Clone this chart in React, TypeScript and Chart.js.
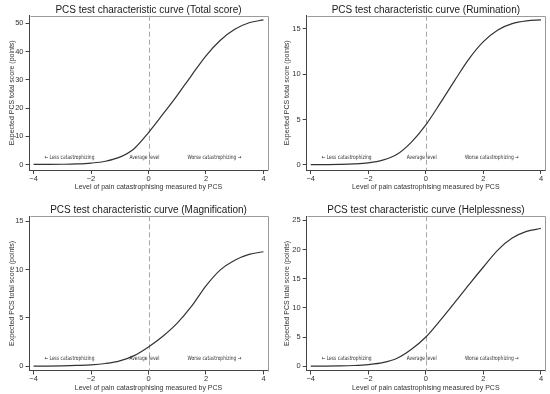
import React, { useEffect, useRef } from 'react';
import { Chart, registerables } from 'chart.js';

Chart.register(...registerables);

// ---- data ----
const theta = [-4, -3.5, -3, -2.5, -2, -1.5, -1, -0.5, 0, 0.5, 1, 1.5, 2, 2.5, 3, 3.5, 4];
const totalScore = [0.01, 0.03, 0.08, 0.2, 0.5, 1.15, 2.6, 5.6, 11.3, 17.8, 24.5, 31.6, 38.5, 44.0, 47.9, 50.2, 51.2];
const rumination = [0.0, 0.01, 0.03, 0.08, 0.2, 0.5, 1.15, 2.5, 4.4, 6.8, 9.3, 11.7, 13.6, 14.9, 15.6, 15.9, 16.0];
const magnification = [0.01, 0.02, 0.04, 0.08, 0.14, 0.28, 0.55, 1.1, 2.0, 3.1, 4.45, 6.2, 8.3, 9.95, 10.95, 11.55, 11.83];
const helplessness = [0.01, 0.02, 0.05, 0.12, 0.28, 0.6, 1.35, 2.9, 5.0, 7.85, 10.9, 14.0, 17.0, 19.9, 21.95, 23.1, 23.6];

const xTicks = [-4, -2, 0, 2, 4];
const totalTicks = [0, 10, 20, 30, 40, 50];
const ruminationTicks = [0, 5, 10, 15];
const magnificationTicks = [0, 5, 10, 15];
const helplessnessTicks = [0, 5, 10, 15, 20, 25];

const panelTitles = [
  'PCS test characteristic curve (Total score)',
  'PCS test characteristic curve (Rumination)',
  'PCS test characteristic curve (Magnification)',
  'PCS test characteristic curve (Helplessness)',
];
const xAxisTitle = 'Level of pain catastrophising measured by PCS';
const yAxisTitle = 'Expected PCS total score (points)';
const leftNote = '\u2190 Less catastrophizing';
const midNote = 'Average level';
const rightNote = 'Worse catastrophizing \u2192';

const W = 275;
const H = 197;
const FONT = "'Liberation Sans', Arial, sans-serif";
const NOTE_FONT = "'Liberation Sans Narrow', 'DejaVu Sans Condensed', 'Liberation Sans', sans-serif";

type PanelCfg = {
  title: string;
  values: number[];
  yTicks: number[];
  yMin: number;
  yMax: number;
  frameLeft: number;
  frameRight: number;
  frameTop: number;
  frameBottom: number;
  titleY: number;
  xTitlePad: number;
  left: number;
  top: number;
};

const panels: PanelCfg[] = [
  { title: panelTitles[0], values: totalScore, yTicks: totalTicks, yMin: -1.95, yMax: 52.7,
    frameLeft: 29.5, frameRight: 267.5, frameTop: 15.7, frameBottom: 170, titleY: 10.5, xTitlePad: 5.8, left: 0, top: 0 },
  { title: panelTitles[1], values: rumination, yTicks: ruminationTicks, yMin: -0.59, yMax: 16.47,
    frameLeft: 31.7, frameRight: 270, frameTop: 15.7, frameBottom: 170, titleY: 10.5, xTitlePad: 5.8, left: 275, top: 0 },
  { title: panelTitles[2], values: magnification, yTicks: magnificationTicks, yMin: -0.44, yMax: 15.49,
    frameLeft: 29.5, frameRight: 267.5, frameTop: 19.3, frameBottom: 173.5, titleY: 13.5, xTitlePad: 2.2, left: 0, top: 197 },
  { title: panelTitles[3], values: helplessness, yTicks: helplessnessTicks, yMin: -0.74, yMax: 25.69,
    frameLeft: 31.7, frameRight: 270, frameTop: 19.3, frameBottom: 173.5, titleY: 13.5, xTitlePad: 2.2, left: 275, top: 197 },
];

const fmt = (v: number) => String(v).replace('-', '\u2212');

function Panel({ cfg }: { cfg: PanelCfg }) {
  const ref = useRef<HTMLCanvasElement | null>(null);
  useEffect(() => {
    if (!ref.current) return;
    const decor = {
      id: 'decor',
      beforeDatasetsDraw(chart: any) {
        const { ctx, chartArea: a, scales } = chart;
        ctx.save();
        // frame top/right
        ctx.strokeStyle = '#9a9a9a';
        ctx.lineWidth = 1;
        ctx.beginPath();
        ctx.moveTo(Math.round(a.left) + 0.5, Math.round(a.top) + 0.5);
        ctx.lineTo(Math.round(a.right) + 0.5, Math.round(a.top) + 0.5);
        ctx.lineTo(Math.round(a.right) + 0.5, Math.round(a.bottom) + 0.5);
        ctx.stroke();
        // dashed zero line
        const x0 = Math.round(scales.x.getPixelForValue(0)) + 0.5;
        ctx.strokeStyle = '#a8a8a8';
        ctx.setLineDash([5, 3]);
        ctx.beginPath();
        ctx.moveTo(x0, a.top);
        ctx.lineTo(x0, a.bottom);
        ctx.stroke();
        ctx.setLineDash([]);
        // notes (horizontally condensed to match the narrow font of the original)
        const yn = scales.y.getPixelForValue(0) - 7.5;
        ctx.fillStyle = '#333';
        ctx.font = `6px ${NOTE_FONT}`;
        ctx.textBaseline = 'middle';
        const measured = ctx.measureText(leftNote).width || 1;
        const sx = Math.min(1, 50 / measured);
        const drawNote = (txt: string, xv: number, align: string) => {
          ctx.save();
          const px = scales.x.getPixelForValue(xv);
          ctx.translate(px, yn);
          ctx.scale(sx, 1);
          ctx.textAlign = align;
          ctx.fillText(txt, 0, 0);
          ctx.restore();
        };
        drawNote(leftNote, -3.62, 'left');
        drawNote(midNote, -0.14, 'center');
        drawNote(rightNote, 3.23, 'right');
        // title
        ctx.fillStyle = '#1a1a1a';
        ctx.font = `10px ${FONT}`;
        ctx.textAlign = 'center';
        ctx.textBaseline = 'middle';
        ctx.fillText(cfg.title, (a.left + a.right) / 2, cfg.titleY);
        ctx.restore();
      },
    };
    const chart = new Chart(ref.current, {
      type: 'line',
      data: {
        datasets: [
          {
            data: theta.map((t, i) => ({ x: t, y: cfg.values[i] })),
            borderColor: '#333',
            borderWidth: 1.2,
            pointRadius: 0,
            cubicInterpolationMode: 'monotone',
            fill: false,
          },
        ],
      },
      options: {
        animation: false,
        responsive: false,
        events: [],
        layout: { padding: { left: 0, right: W - cfg.frameRight, top: cfg.frameTop, bottom: 0 } },
        plugins: { legend: { display: false }, tooltip: { enabled: false }, title: { display: false } },
        scales: {
          x: {
            type: 'linear',
            min: -4.14,
            max: 4.14,
            afterBuildTicks: (s: any) => { s.ticks = xTicks.map((v) => ({ value: v })); },
            afterFit: (s: any) => { s.height = H - cfg.frameBottom; },
            grid: { drawOnChartArea: false, drawTicks: true, tickLength: 4, color: '#444' },
            border: { display: true, color: '#444', width: 1 },
            ticks: { callback: (v: any) => fmt(v), font: { size: 7.5, family: FONT }, color: '#333', padding: 0, maxRotation: 0, autoSkip: false },
            title: { display: true, text: xAxisTitle, font: { size: 7, family: FONT }, color: '#333', padding: { top: 0, bottom: cfg.xTitlePad } },
          },
          y: {
            type: 'linear',
            min: cfg.yMin,
            max: cfg.yMax,
            afterBuildTicks: (s: any) => { s.ticks = cfg.yTicks.map((v) => ({ value: v })); },
            afterFit: (s: any) => { s.width = cfg.frameLeft; },
            grid: { drawOnChartArea: false, drawTicks: true, tickLength: 4, color: '#444' },
            border: { display: true, color: '#444', width: 1 },
            ticks: { callback: (v: any) => fmt(v), font: { size: 7.5, family: FONT }, color: '#333', padding: 2, autoSkip: false },
            title: { display: true, text: yAxisTitle, font: { size: 7, family: FONT }, color: '#333', padding: { top: 7.5, bottom: 0 } },
          },
        },
      },
      plugins: [decor],
    } as any);
    return () => chart.destroy();
  }, [cfg]);
  return (
    <canvas
      ref={ref}
      width={W}
      height={H}
      style={{ position: 'absolute', left: cfg.left, top: cfg.top, width: W, height: H }}
    />
  );
}

export default function App() {
  return (
    <div style={{ position: 'fixed', left: 0, top: 0, width: 550, height: 394, background: '#fff' }}>
      {panels.map((p, i) => (
        <Panel key={i} cfg={p} />
      ))}
    </div>
  );
}
